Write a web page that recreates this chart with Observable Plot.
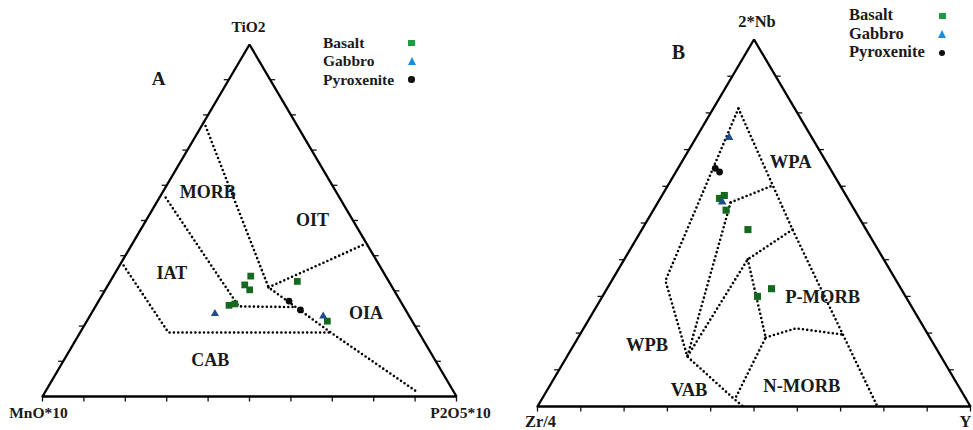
<!DOCTYPE html>
<html><head><meta charset="utf-8">
<script src="https://cdn.jsdelivr.net/npm/d3@7"></script>
<script src="https://cdn.jsdelivr.net/npm/@observablehq/plot@0.6"></script>
<style>
body{margin:0;background:#fff;}
#wrap{position:relative;width:973px;height:430px;overflow:hidden;background:#fff;font-family:"Liberation Serif","Times New Roman",serif;font-weight:bold;color:#1a1a1a;}
.pl{position:absolute;top:0;}
.lab{position:absolute;white-space:nowrap;line-height:1;}
.mk{position:absolute;}
</style></head><body><div id="wrap"></div>
<script>
// ---------- DATA (ternary percentages: T = top apex component, R = right corner component) ----------
const groups = ["Basalt", "Gabbro", "Pyroxenite"];

// Diagram A: TiO2 (top) – MnO*10 (left) – P2O5*10 (right)
const apexA = ["TiO2", "MnO*10", "P2O5*10"];
const basaltA = [
  {T: 34.2, R: 33.2}, {T: 31.7, R: 33.0}, {T: 30.3, R: 34.9}, {T: 25.9, R: 32.1},
  {T: 26.3, R: 33.3}, {T: 32.7, R: 45.2}, {T: 21.4, R: 58.1}
];
const gabbroA = [{T: 23.5, R: 29.9}, {T: 22.8, R: 56.4}];
const pyroxeniteA = [{T: 27.1, R: 46.0}, {T: 24.6, R: 50.0}];
const boundariesA = [
  [[78, 0], [31, 39.1], [18.2, 60.5], [1.2, 90]],
  [[31, 39.1], [43.5, 56.5]],
  [[56.5, 1.5], [25.6, 34.6], [25.4, 48.4]],
  [[37.2, 1.0], [18.2, 21.3], [18.2, 60.5]]
];
const fieldsA = [
  {name: "MORB", T: 58.0, R: 10.9}, {name: "OIT", T: 50.0, R: 40.2},
  {name: "IAT", T: 34.9, R: 13.8}, {name: "OIA", T: 23.7, R: 66.3},
  {name: "CAB", T: 10.4, R: 35.3}
];

// Diagram B: 2*Nb (top) – Zr/4 (left) – Y (right)
const apexB = ["2*Nb", "Zr/4", "Y"];
const basaltB = [
  {T: 56.7, R: 13.7}, {T: 57.5, R: 14.4}, {T: 53.5, R: 16.8},
  {T: 48.2, R: 24.5}, {T: 32.1, R: 38.0}, {T: 30.0, R: 35.8}
];
const gabbroB = [{T: 73.3, R: 7.6}, {T: 55.7, R: 14.8}];
const pyroxeniteB = [{T: 64.9, R: 8.6}, {T: 63.9, R: 10.1}];
const boundariesB = [
  [[81.2, 5.8], [34.3, 12.4], [13.6, 27.8], [1.9, 44.6], [0, 47.5]],
  [[81.2, 5.8], [48.2, 34.8], [0, 78.5]],
  [[55.6, 16.8], [60.2, 24.2]],
  [[55.6, 16.8], [13.6, 27.8]],
  [[48.2, 34.8], [40.1, 28.5], [13.6, 27.8]],
  [[40.1, 28.5], [18.8, 43.3], [1.9, 44.6]],
  [[18.8, 43.3], [21.3, 49.0], [19.6, 60.7]]
];
const fieldsB = [
  {name: "WPA", T: 66.5, R: 25.2}, {name: "P-MORB", T: 29.7, R: 51.0},
  {name: "WPB", T: 16.6, R: 17.0}, {name: "VAB", T: 4.6, R: 32.7},
  {name: "N-MORB", T: 5.7, R: 58.2}
];

const tickSteps = [0, 10, 20, 30, 40, 50, 60, 70, 80, 90, 100];

// ---------- helpers ----------
const FONT = "Liberation Serif, Times New Roman, serif";
const px = d => d.R / 100 + d.T / 200;   // ternary -> cartesian x (base = 1)
const py = d => d.T / 100;               // ternary -> cartesian y (height = 1)
const C = {basalt: "#13691d", gabbro: "#1d4d8c", pyrox: "#0b0b0b"};

function ternary(cfg) {
  const {W, H, ml, mr, mt, mb, apex, basalt, gabbro, pyrox, bounds, fields, fs, afs, tl, apexOff} = cfg;
  const ux = 1 / (W - ml - mr), uy = 1 / (H - mt - mb);   // data units per pixel
  const tri = [{T: 0, R: 0}, {T: 0, R: 100}, {T: 100, R: 0}, {T: 0, R: 0}];
  const lines = bounds.flatMap((s, i) => s.map(([T, R]) => ({id: i, T, R})));
  const side = tickSteps.filter(v => v > 0 && v < 100);
  const ticks = [
    ...tickSteps.map(v => ({x1: v / 100, y1: 0, x2: v / 100, y2: -tl * uy})),
    ...side.map(v => ({x1: v / 200, y1: v / 100, x2: v / 200 - tl * ux, y2: v / 100})),
    ...side.map(v => ({x1: 1 - v / 200, y1: v / 100, x2: 1 - v / 200 + tl * ux, y2: v / 100}))
  ];
  const corners = [
    {name: apex[0], T: 100, R: 0, dx: apexOff[0][0], dy: apexOff[0][1], a: "middle"},
    {name: apex[1], T: 0, R: 0, dx: apexOff[1][0], dy: apexOff[1][1], a: "middle"},
    {name: apex[2], T: 0, R: 100, dx: apexOff[2][0], dy: apexOff[2][1], a: apexOff[2][2] || "middle"}
  ];
  return Plot.plot({
    width: W, height: H, marginLeft: ml, marginRight: mr, marginTop: mt, marginBottom: mb,
    x: {domain: [0, 1], axis: null}, y: {domain: [0, 1], axis: null},
    style: {background: "transparent", overflow: "visible"},
    marks: [
      Plot.line(lines, {x: px, y: py, z: "id", stroke: "#000", strokeWidth: 2.6, strokeDasharray: "0,4.3", strokeLinecap: "round"}),
      Plot.link(ticks, {x1: "x1", y1: "y1", x2: "x2", y2: "y2", stroke: "#111", strokeWidth: 1.3}),
      Plot.line(tri, {x: px, y: py, stroke: "#000", strokeWidth: 2.3, strokeLinejoin: "miter"}),
      Plot.dot(basalt, {x: px, y: py, symbol: "square", r: cfg.rs, fill: C.basalt}),
      Plot.dot(gabbro, {x: px, y: py, symbol: "triangle", r: cfg.rt, fill: C.gabbro}),
      Plot.dot(pyrox, {x: px, y: py, symbol: "circle", r: cfg.rc, fill: C.pyrox}),
      Plot.text(fields, {x: px, y: py, text: "name", fontSize: fs, fontWeight: "bold", fontFamily: FONT, fill: "#1a1a1a"}),
      ...corners.map(c => Plot.text([c], {x: px, y: py, text: "name", dx: c.dx, dy: c.dy, textAnchor: c.a, fontSize: afs, fontWeight: "bold", fontFamily: FONT, fill: "#1a1a1a"}))
    ]
  });
}

const wrap = document.getElementById("wrap");

const plotA = ternary({W: 486, H: 430, ml: 42, mr: 30, mt: 44, mb: 34, apex: apexA,
  basalt: basaltA, gabbro: gabbroA, pyrox: pyroxeniteA, bounds: boundariesA, fields: fieldsA,
  fs: 18, afs: 15.5, tl: 5, rs: 3.8, rt: 3.0, rc: 3.4,
  apexOff: [[-1, -17], [-4, 17], [4, 17]]});
plotA.classList.add("pl"); plotA.style.left = "0px";
wrap.appendChild(plotA);

const plotB = ternary({W: 487, H: 430, ml: 51, mr: 3, mt: 39, mb: 24, apex: apexB,
  basalt: basaltB, gabbro: gabbroB, pyrox: pyroxeniteB, bounds: boundariesB, fields: fieldsB,
  fs: 18.5, afs: 16.5, tl: 5, rs: 4.0, rt: 3.2, rc: 3.4,
  apexOff: [[3, -18], [3, 15.5], [-11, 15.5, "start"]]});
plotB.classList.add("pl"); plotB.style.left = "486px";
wrap.appendChild(plotB);

// ---------- panel letters ----------
function label(txt, x, y, size) {
  const d = document.createElement("div");
  d.className = "lab"; d.textContent = txt;
  d.style.fontSize = size + "px";
  wrap.appendChild(d);
  const w = d.getBoundingClientRect().width;
  d.style.left = (x - w / 2) + "px";
  d.style.top = (y - size * 0.5) + "px";
}
label("A", 158.5, 78, 19);
label("B", 678.5, 52, 20);

// ---------- legends ----------
const legendColors = {Basalt: "#1f9a3e", Gabbro: "#1a8ddb", Pyroxenite: "#111"};
function legend(x0, y0, dy, mx, size) {
  groups.forEach((g, i) => {
    const y = y0 + i * dy;
    const t = document.createElement("div");
    t.className = "lab"; t.textContent = g; t.style.fontSize = size + "px";
    t.style.left = x0 + "px"; t.style.top = (y - size * 0.5) + "px";
    wrap.appendChild(t);
    const m = document.createElement("div");
    m.className = "mk";
    if (g === "Basalt") {
      Object.assign(m.style, {left: (mx - 3.5) + "px", top: (y - 3) + "px", width: "7px", height: "6px", background: legendColors[g]});
    } else if (g === "Gabbro") {
      Object.assign(m.style, {left: (mx - 4) + "px", top: (y - 4) + "px", width: "0", height: "0",
        borderLeft: "4px solid transparent", borderRight: "4px solid transparent", borderBottom: "8px solid " + legendColors[g]});
    } else {
      Object.assign(m.style, {left: (mx - 3.2) + "px", top: (y - 3.2) + "px", width: "6.4px", height: "6.4px", borderRadius: "50%", background: legendColors[g]});
    }
    wrap.appendChild(m);
  });
}
legend(323, 43, 18.2, 411.5, 15.5);
legend(849, 15.5, 18.6, 942, 16.5);
</script></body></html>
